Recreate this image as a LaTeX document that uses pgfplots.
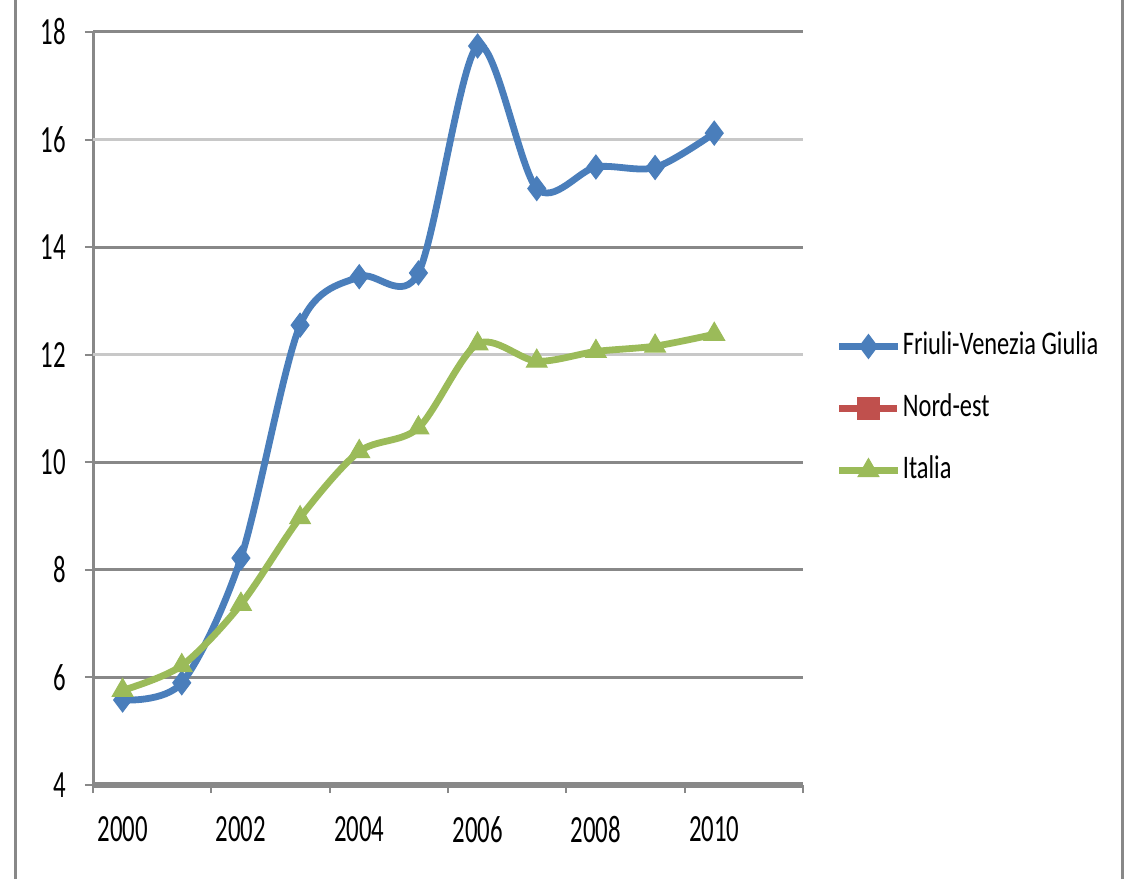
\documentclass[border=0pt]{standalone}
\usepackage{pgfplots}
\pgfplotsset{compat=1.18}
\usepackage{fontspec}
\usepackage{graphicx}
\setmainfont{Carlito}
\definecolor{fvgblue}{HTML}{4A7EBB}
\definecolor{nered}{HTML}{C0504D}
\definecolor{itgreen}{HTML}{9BBB59}
\definecolor{griddark}{HTML}{888888}
\definecolor{gridlight}{HTML}{C8C8C8}
% tall, narrow lettering for labels
\newcommand{\ticklab}[1]{\scalebox{1}[1.55]{#1}}
\newcommand{\leglab}[1]{\scalebox{1}[1.35]{#1}}
\begin{document}
\begin{tikzpicture}
\path[use as bounding box] (-46.5pt,-47pt) rectangle (517pt,392.5pt);
\draw[griddark, line width=1.5pt] (-38.5pt,-47pt) -- (-38.5pt,392.5pt);
\draw[griddark, line width=1.5pt] (514.5pt,-47pt) -- (514.5pt,392.5pt);
\begin{axis}[
  scale only axis, width=355pt, height=376.5pt,
  at={(0,0)}, anchor=south west,
  xmin=0, xmax=12, ymin=4, ymax=18,
  axis lines=left,
  axis line style={-, griddark, line width=1.5pt},
  x axis line style={line width=3pt},
  font=\fontsize{12.4}{14}\selectfont,
  /pgf/number format/assume math mode=true,
  xtick={0,2,...,12}, xticklabels={},
  extra x ticks={0.5,2.5,4.5,6.5,8.5,10.5},
  extra x tick labels={\ticklab{2000},\ticklab{2002},\ticklab{2004},\ticklab{2006},\ticklab{2008},\ticklab{2010}},
  extra x tick style={major tick length=0pt, grid=none,
    xticklabel style={yshift=-12pt}},
  ytick={4,6,8,10,14,18},
  extra y ticks={12,16},
  extra y tick style={grid style={gridlight, line width=1.5pt}},
  yticklabel={\ticklab{\pgfmathprintnumber{\tick}}},
  ymajorgrids,
  grid style={griddark, line width=1.5pt},
  tick align=outside,
  major tick length=4pt,
  tick style={griddark, line width=1pt},
  yticklabel style={xshift=-6pt},
  legend style={at={(1.046,0.5)}, anchor=west, draw=none, fill=none,
    inner sep=0pt, row sep=17pt,
    nodes={inner sep=1pt, text height=10pt, text depth=2pt, font=\fontsize{12.2}{14}\selectfont}},
  legend cell align=left,
  legend image code/.code={\draw[mark repeat=2,mark phase=2,#1]
    plot coordinates {(0pt,0pt) (14.5pt,0pt) (29pt,0pt)};},
]
\addplot[fvgblue, line width=3.4pt, smooth, mark=diamond*, mark size=6pt,
  mark options={solid, line width=0.5pt}]
  coordinates {(0.5,5.58)(1.5,5.9)(2.5,8.22)(3.5,12.55)(4.5,13.45)(5.5,13.52)
               (6.5,17.74)(7.5,15.09)(8.5,15.49)(9.5,15.48)(10.5,16.12)};
\addlegendentry{\leglab{Friuli-Venezia Giulia}}
\addlegendimage{nered, line width=3.4pt, mark=square*, mark size=4.2pt, mark options={solid}}
\addlegendentry{\leglab{Nord-est}}
\addplot[itgreen, line width=3.4pt, smooth, mark=triangle*, mark size=6pt,
  mark options={solid, line width=0.5pt}]
  coordinates {(0.5,5.76)(1.5,6.22)(2.5,7.36)(3.5,8.97)(4.5,10.2)(5.5,10.64)
               (6.5,12.2)(7.5,11.88)(8.5,12.06)(9.5,12.16)(10.5,12.38)};
\addlegendentry{\leglab{Italia}}
\end{axis}
\end{tikzpicture}
\end{document}
